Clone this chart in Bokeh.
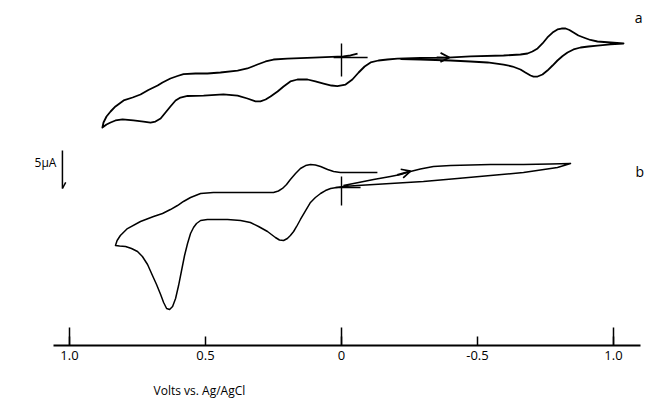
from bokeh.plotting import figure
from bokeh.models import Range1d, FixedTicker, Label, Arrow, OpenHead
from bokeh.embed import file_html
from bokeh.resources import INLINE

# ---------------- data (potential in V vs Ag/AgCl, current in µA incl. trace offset) -------------
a_volts = [-0.059, -0.033, -0.007, 0.103, 0.199, 0.250, 0.279, 0.309, 0.346, 0.382, 0.445, 0.493,
           0.537, 0.581, 0.603, 0.629, 0.658, 0.676, 0.710, 0.739, 0.768, 0.801, 0.831, 0.849,
           0.864, 0.875, 0.879, 0.864, 0.849, 0.831, 0.805, 0.765, 0.728, 0.702, 0.684, 0.665,
           0.647, 0.629, 0.610, 0.592, 0.566, 0.507, 0.434, 0.382, 0.346, 0.316, 0.298, 0.279,
           0.261, 0.235, 0.213, 0.188, 0.162, 0.125, 0.096, 0.066, 0.037, 0.015, -0.015, -0.040,
           -0.063, -0.085, -0.107, -0.136, -0.169, -0.206, -0.290, -0.390, -0.474, -0.596, -0.658,
           -0.684, -0.702, -0.721, -0.739, -0.757, -0.776, -0.794, -0.809, -0.824, -0.838, -0.853,
           -0.871, -0.890, -0.915, -0.941, -0.989, -1.037, -0.989, -0.941, -0.908, -0.879, -0.853,
           -0.831, -0.813, -0.794, -0.776, -0.757, -0.739, -0.721, -0.706, -0.695, -0.676, -0.658,
           -0.629, -0.596, -0.537, -0.474, -0.401, -0.290, -0.217]
a_current = [38.42, 38.16, 38.03, 37.89, 37.76, 37.63, 37.37, 36.97, 36.45, 36.18, 35.92, 35.79,
             35.79, 35.72, 35.46, 35.13, 34.61, 34.21, 33.62, 33.03, 32.63, 32.24, 31.45, 30.79,
             30.13, 29.34, 28.68, 29.08, 29.34, 29.61, 29.74, 29.61, 29.47, 29.34, 29.47, 29.87,
             30.66, 31.45, 32.24, 32.63, 32.83, 32.89, 33.03, 32.89, 32.50, 32.11, 32.11, 32.37,
             32.76, 33.42, 34.08, 34.74, 35.00, 35.00, 34.74, 34.47, 34.21, 34.14, 34.34, 35.00,
             35.92, 36.71, 37.24, 37.50, 37.63, 37.76, 37.83, 37.89, 38.03, 38.16, 38.29,
             38.42, 38.68, 39.08, 39.74, 40.53, 41.18, 41.58, 41.71, 41.71, 41.51, 41.18,
             40.79, 40.53, 40.20, 40.00, 39.87, 39.74, 39.61, 39.47, 39.34, 39.21, 38.95,
             38.55, 38.09, 37.50, 36.84, 36.18, 35.66, 35.39, 35.39, 35.53, 35.92, 36.32,
             36.71, 36.97, 37.24, 37.37, 37.50, 37.63, 37.70]

b_volts = [-0.007, -0.063, -0.118, -0.180, -0.217, -0.246, -0.290, -0.338, -0.401, -0.548, -0.669,
           -0.768, -0.842, -0.794, -0.669, -0.548, -0.426, -0.301, -0.180, -0.059, -0.007, 0.018,
           0.040, 0.059, 0.077, 0.096, 0.114, 0.132, 0.151, 0.165, 0.176, 0.188, 0.199, 0.213,
           0.228, 0.243, 0.272, 0.305, 0.335, 0.371, 0.419, 0.493, 0.518, 0.533, 0.544, 0.555,
           0.566, 0.577, 0.588, 0.599, 0.610, 0.621, 0.632, 0.643, 0.654, 0.665, 0.680, 0.695,
           0.713, 0.732, 0.750, 0.772, 0.794, 0.816, 0.831, 0.825, 0.813, 0.787, 0.739, 0.691,
           0.658, 0.629, 0.603, 0.581, 0.555, 0.518, 0.471, 0.397, 0.309, 0.250, 0.232, 0.217,
           0.202, 0.188, 0.169, 0.151, 0.132, 0.114, 0.096, 0.077, 0.051, 0.029, 0.004, -0.022,
           -0.132]
b_current = [21.05, 21.45, 21.84, 22.24, 22.50, 22.83, 23.22, 23.55, 23.68, 23.82, 23.82,
             23.88, 23.95, 23.42, 22.76, 22.37, 21.97, 21.58, 21.32, 21.05, 20.92, 20.79,
             20.66, 20.39, 20.00, 19.47, 18.82, 17.76, 16.58, 15.66, 15.00, 14.47, 14.08, 13.82,
             13.88, 14.21, 15.00, 15.66, 16.18, 16.45, 16.58, 16.58, 16.45, 16.05, 15.53, 14.74,
             13.42, 11.84, 9.87, 7.89, 6.18, 5.13, 4.74, 4.87, 5.66, 6.71, 8.03, 9.21,
             10.66, 11.71, 12.37, 12.76, 13.03, 13.09, 13.16, 13.82, 14.47, 15.39, 16.32, 16.97,
             17.37, 17.89, 18.42, 18.95, 19.47, 20.00, 20.13, 20.13, 20.13, 20.13, 20.33, 20.66,
             21.18, 21.84, 22.63, 23.29, 23.68, 23.82, 23.75, 23.55, 23.16, 22.89, 22.76, 22.76,
             22.76]

# zero-potential markers (vertical bar span and horizontal bar span) for traces a and b
zero_a_span = [35.39, 39.74]
zero_a_bar_v = [0.029, -0.096]
zero_a_bar_i = 37.89
zero_b_span = [18.42, 22.24]
zero_b_bar_v = [0.022, -0.070]
zero_b_bar_i = 20.79

# scan-direction arrows (start V, start I, end V, end I)
arrow_a = [-0.35, 37.92, -0.397, 37.89]
arrow_b = [-0.205, 22.45, -0.254, 22.95]

# 5 µA scale bar
scale_v = 1.026
scale_i = [25.66, 20.66]

tick_values = [1.0, 0.5, 0.0, -0.5, -1.0]
tick_labels = ["1.0", "0.5", "0", "-0.5", "1.0"]
long_ticks = [1.0, 0.0, -1.0]
axis_bounds = (-1.099, 1.059)

FONT = "Open Sans"

p = figure(width=648, height=407, output_backend="svg", toolbar_location=None,
           x_range=Range1d(1.2537, -1.1287), y_range=Range1d(-8.158, 45.395),
           y_axis_type=None, min_border=0)
p.grid.visible = False
p.outline_line_color = None
p.background_fill_color = "white"
p.border_fill_color = "white"

# curves
p.line(a_volts, a_current, line_color="black", line_width=1.8, line_join="round")
p.line(b_volts, b_current, line_color="black", line_width=1.5, line_join="round")

# zero markers
for span, bar_v, bar_i in [(zero_a_span, zero_a_bar_v, zero_a_bar_i),
                           (zero_b_span, zero_b_bar_v, zero_b_bar_i)]:
    p.line([0, 0], span, line_color="black", line_width=1.4)
    p.line(bar_v, [bar_i, bar_i], line_color="black", line_width=1.4)

# arrows
for ar in (arrow_a, arrow_b):
    p.add_layout(Arrow(end=OpenHead(size=9, line_width=1.7, line_color="black"),
                       x_start=ar[0], y_start=ar[1], x_end=ar[2], y_end=ar[3],
                       line_width=1.7, line_color="black"))

# scale bar
p.line([scale_v, scale_v], scale_i, line_color="black", line_width=1.5)
p.line([scale_v, scale_v - 0.012], [scale_i[1], scale_i[1] + 0.8], line_color="black", line_width=1.5)
p.add_layout(Label(x=1.048, y=24.1, text="5μA", text_font=FONT, text_font_size="12px",
                   text_align="right", text_baseline="middle", text_color="black"))

# trace labels
p.add_layout(Label(x=-1.092, y=43.2, text="a", text_font=FONT, text_font_size="14px",
                   text_align="center", text_baseline="middle", text_color="black"))
p.add_layout(Label(x=-1.097, y=22.9, text="b", text_font=FONT, text_font_size="14px",
                   text_align="center", text_baseline="middle", text_color="black"))

# axis
ax = p.xaxis[0]
ax.fixed_location = 0
ax.bounds = axis_bounds
ax.ticker = FixedTicker(ticks=tick_values, minor_ticks=long_ticks)
ax.major_label_overrides = {v: s for v, s in zip(tick_values, tick_labels)}
ax.major_tick_in = 9
ax.major_tick_out = 0
ax.minor_tick_in = 18
ax.minor_tick_out = 0
ax.axis_line_width = 2
ax.major_tick_line_width = 1.5
ax.minor_tick_line_width = 1.5
ax.axis_line_color = "black"
ax.major_tick_line_color = "black"
ax.minor_tick_line_color = "black"
ax.major_label_text_font = FONT
ax.major_label_text_font_size = "13px"
ax.major_label_text_color = "black"
ax.major_label_standoff = 6

p.add_layout(Label(x=0.691, y=-5.92, text="Volts  vs.  Ag/AgCl", text_font=FONT,
                   text_font_size="12px", text_align="left", text_baseline="middle",
                   text_color="black"))

open("out.html", "w").write(file_html(p, INLINE))
